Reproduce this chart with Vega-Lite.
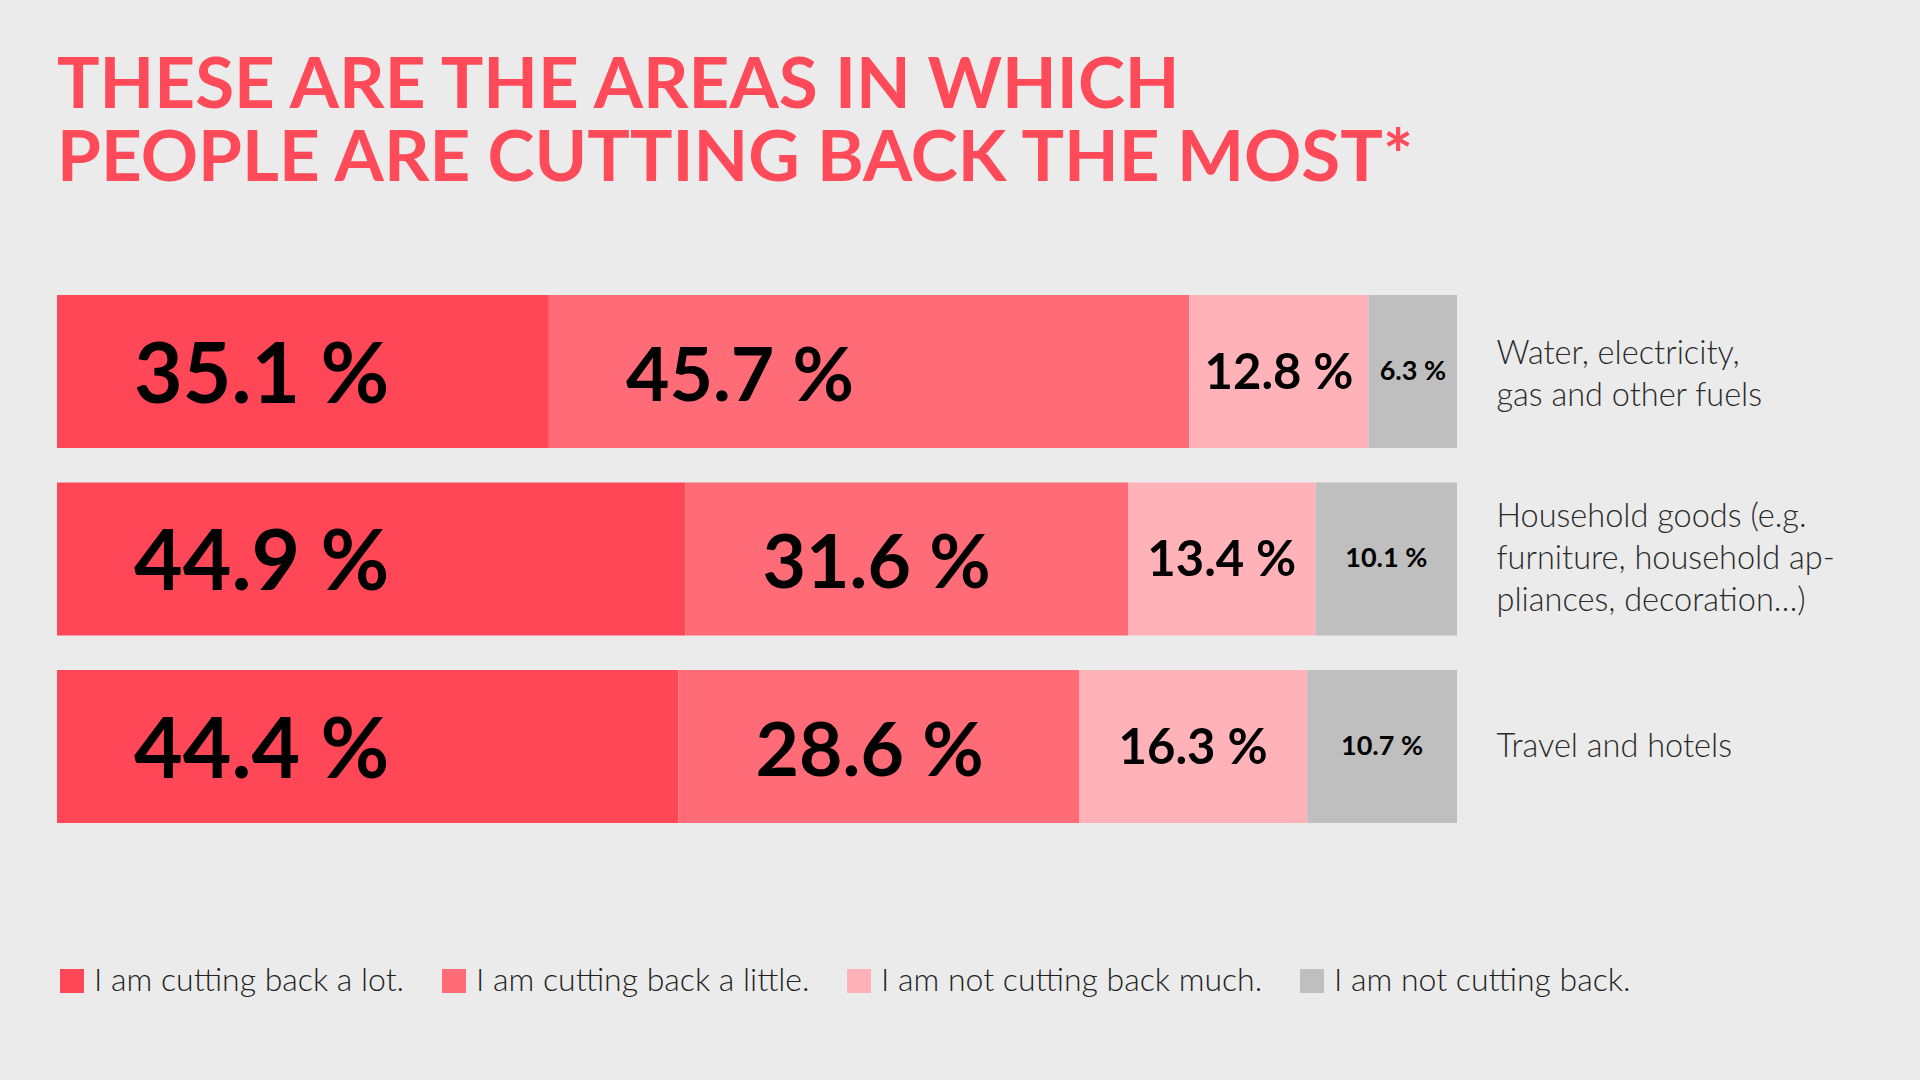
{
  "$schema": "https://vega.github.io/schema/vega-lite/v6.json",
  "width": 1400,
  "height": 528,
  "autosize": {"type": "none"},
  "padding": {"left": 57, "top": 295, "right": 463, "bottom": 257},
  "background": "#EBEBEB",
  "title": {
    "text": ["THESE ARE THE AREAS IN WHICH", "PEOPLE ARE CUTTING BACK THE MOST*"],
    "anchor": "start",
    "frame": "group",
    "font": "Lato",
    "fontSize": 71,
    "fontWeight": "bold",
    "color": "#FF4A5A",
    "lineHeight": 73,
    "offset": 99
  },
  "config": {
    "view": {"stroke": null},
    "legend": {
      "orient": "none",
      "legendX": -1,
      "legendY": 670,
      "direction": "horizontal",
      "title": null,
      "symbolType": "square",
      "symbolSize": 576,
      "symbolStrokeWidth": 0,
      "symbolOpacity": 1,
      "labelFont": "Lato",
      "labelFontWeight": 300,
      "labelFontSize": 32,
      "labelColor": "#222222",
      "labelOffset": 6,
      "columnPadding": 33,
      "labelLimit": 600
    }
  },
  "data": {
    "values": [
      {"area": "Water, electricity,\ngas and other fuels", "response": "I am cutting back a lot.", "value": 35.1},
      {"area": "Water, electricity,\ngas and other fuels", "response": "I am cutting back a little.", "value": 45.7},
      {"area": "Water, electricity,\ngas and other fuels", "response": "I am not cutting back much.", "value": 12.8},
      {"area": "Water, electricity,\ngas and other fuels", "response": "I am not cutting back.", "value": 6.3},
      {"area": "Household goods (e.g.\nfurniture, household ap-\npliances, decoration…)", "response": "I am cutting back a lot.", "value": 44.9},
      {"area": "Household goods (e.g.\nfurniture, household ap-\npliances, decoration…)", "response": "I am cutting back a little.", "value": 31.6},
      {"area": "Household goods (e.g.\nfurniture, household ap-\npliances, decoration…)", "response": "I am not cutting back much.", "value": 13.4},
      {"area": "Household goods (e.g.\nfurniture, household ap-\npliances, decoration…)", "response": "I am not cutting back.", "value": 10.1},
      {"area": "Travel and hotels", "response": "I am cutting back a lot.", "value": 44.4},
      {"area": "Travel and hotels", "response": "I am cutting back a little.", "value": 28.6},
      {"area": "Travel and hotels", "response": "I am not cutting back much.", "value": 16.3},
      {"area": "Travel and hotels", "response": "I am not cutting back.", "value": 10.7}
    ]
  },
  "transform": [
    {"calculate": "indexof(['I am cutting back a lot.', 'I am cutting back a little.', 'I am not cutting back much.', 'I am not cutting back.'], datum.response)", "as": "ord"},
    {"stack": "value", "groupby": ["area"], "sort": [{"field": "ord", "order": "ascending"}], "offset": "normalize", "as": ["x0", "x1"]},
    {"calculate": "(datum.x0 + datum.x1) / 2", "as": "xm"},
    {"calculate": "format(datum.value, '.1f') + ' %'", "as": "label"}
  ],
  "encoding": {
    "y": {
      "field": "area",
      "type": "nominal",
      "sort": ["Water, electricity,\ngas and other fuels", "Household goods (e.g.\nfurniture, household ap-\npliances, decoration…)", "Travel and hotels"],
      "scale": {"paddingInner": 0.184, "paddingOuter": 0},
      "axis": {
        "orient": "right",
        "title": null,
        "domain": false,
        "ticks": false,
        "labelPadding": 39,
        "labelAlign": "left",
        "labelFont": "Lato",
        "labelFontWeight": 300,
        "labelFontSize": 32.5,
        "labelColor": "#2A2A2A",
        "labelLineHeight": 42,
        "labelLimit": 600,
        "labelExpr": "split(datum.label, '\\n')",
        "labelOffset": {
          "condition": [
            {"test": "indexof(datum.value, 'Household') == 0", "value": -42},
            {"test": "indexof(datum.value, 'Water') == 0", "value": -18}
          ],
          "value": 0
        }
      }
    }
  },
  "layer": [
    {
      "mark": {"type": "bar"},
      "encoding": {
        "x": {"field": "x0", "type": "quantitative", "scale": {"domain": [0, 1]}, "axis": null},
        "x2": {"field": "x1"},
        "color": {
          "field": "response",
          "type": "nominal",
          "sort": ["I am cutting back a lot.", "I am cutting back a little.", "I am not cutting back much.", "I am not cutting back."],
          "scale": {
            "domain": ["I am cutting back a lot.", "I am cutting back a little.", "I am not cutting back much.", "I am not cutting back."],
            "range": ["#FF4757", "#FF6B77", "#FFB3B9", "#BFBFBF"]
          }
        }
      }
    },
    {
      "transform": [{"filter": "datum.ord == 0"}],
      "mark": {"type": "text", "align": "left", "baseline": "middle", "dx": 77, "dy": 6, "font": "Lato", "fontWeight": "bold", "fontSize": 84, "color": "#000000"},
      "encoding": {"x": {"field": "x0", "type": "quantitative"}, "text": {"field": "label"}}
    },
    {
      "transform": [{"filter": "datum.ord == 1"}],
      "mark": {"type": "text", "align": "left", "baseline": "middle", "dx": 77, "dy": 6, "font": "Lato", "fontWeight": "bold", "fontSize": 75, "color": "#000000"},
      "encoding": {"x": {"field": "x0", "type": "quantitative"}, "text": {"field": "label"}}
    },
    {
      "transform": [{"filter": "datum.ord == 2"}],
      "mark": {"type": "text", "align": "center", "baseline": "middle", "dy": 2, "font": "Lato", "fontWeight": "bold", "fontSize": 49, "color": "#000000"},
      "encoding": {"x": {"field": "xm", "type": "quantitative"}, "text": {"field": "label"}}
    },
    {
      "transform": [{"filter": "datum.ord == 3"}],
      "mark": {"type": "text", "align": "center", "baseline": "middle", "font": "Lato", "fontWeight": "bold", "fontSize": 27, "color": "#000000"},
      "encoding": {"x": {"field": "xm", "type": "quantitative"}, "text": {"field": "label"}}
    }
  ]
}
